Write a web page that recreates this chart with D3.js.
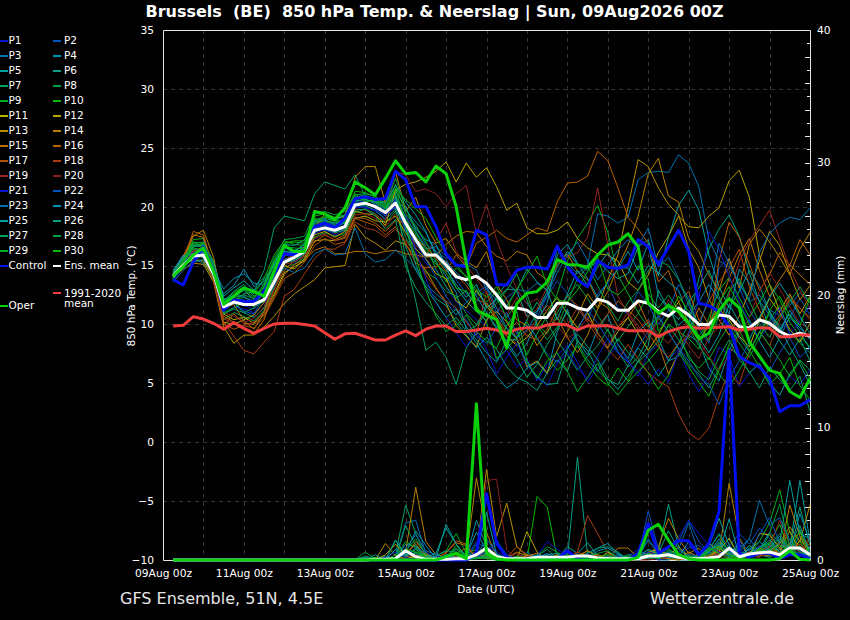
<!DOCTYPE html>
<html><head><meta charset="utf-8">
<script src="https://cdn.jsdelivr.net/npm/d3@7"></script>
<style>html,body{margin:0;padding:0;background:#000;overflow:hidden}text{font-family:"DejaVu Sans";fill:#fff;white-space:pre}</style>
</head><body><svg id="c" width="850" height="620"></svg>
<script>
const titleText = "Brussels  (BE)  850 hPa Temp. & Neerslag | Sun, 09Aug2026 00Z";
const tempTicks = [35,30,25,20,15,10,5,0,-5,-10];
const rainTicks = [0,10,20,30,40];
const memberColors = ["#0a14c8","#0050c0","#0070b0","#0090b0","#00a0a0","#00a080","#00a060","#00a040","#00b020","#00b800","#b4b400","#b8a400","#b89000","#b88000","#b87000","#b86000","#b05000","#a83c10","#982820","#882020"];
const ensMean = [14.1,15,15.8,15.9,14.3,11.5,11.9,11.7,11.7,12.1,13.6,15.3,15.7,16.2,18,18.2,18,18.3,20.15,20.3,20,19.5,20.3,18.6,17.2,15.9,15.9,15.05,14.05,13.8,14.1,13.5,12.5,11.4,11.4,11.2,10.6,10.6,11.8,11.8,11.4,11.2,12.15,11.9,11.2,11.2,12,11.8,11.1,10.7,11.4,10.8,10,10,10.8,10.7,9.8,9.7,10.4,10.1,9.4,9,9.25,9];
const climate = [9.87,9.93,10.66,10.46,10.1,9.6,10.15,9.67,9.25,9.67,10.04,10.1,10.1,10,9.87,9.3,8.74,9.2,9.25,8.96,8.68,8.68,9.1,9.45,9.05,9.6,9.87,9.87,9.4,9.4,9.53,9.67,9.53,9.25,9.6,9.73,9.67,9.95,10.04,9.95,9.53,9.87,9.87,9.9,9.67,9.47,9.47,9.47,8.96,9.4,9.67,9.8,9.67,9.73,9.76,9.8,9.53,9.6,9.73,9.67,8.96,8.96,9.1,9.1];
const control = [13.8,13.35,15.3,16.6,14.6,11.2,12.1,11.95,11.95,12.8,14.3,16,15.9,16.3,18.3,18.6,18.2,19,20.7,20.85,20.6,20.7,23,22.3,20,20,18.3,16,15.05,14.9,18,17.6,13.4,13.35,14.6,14.85,14.85,14.7,16.65,14.9,13.8,13.2,15.4,14.85,14.75,15.05,17.2,16.6,15.1,16.55,18,16.2,11.8,11.6,11.1,9.8,7.3,6.75,6.4,5.4,2.6,3.1,3.1,3.6];
const oper = [14.1,14.9,15.9,16.5,14.5,11.7,12.4,13.1,12.8,12.4,14.5,16.7,16.2,16.2,19.6,19.4,18.9,19.9,22.1,21.6,21,22.4,23.9,22.8,22.9,22.1,23.45,22.8,20,15.2,11.2,10.8,10.4,8,11.8,12.65,12.8,13.6,15.5,15.1,15.05,14.85,15.9,16.75,17,17.7,16.6,11.8,10.95,11.6,11.1,10.1,8.8,9.25,11.2,12.2,11.4,8.5,7.3,6.1,5.85,4.3,3.8,5.4];
const tempMembers = [
[14.2,15.2,16.1,15.8,14.2,10.8,11.5,11.3,11.0,11.8,13.2,15.6,15.2,16.0,17.7,18.1,17.6,18.0,19.9,20.0,19.6,19.0,20.2,18.4,16.5,15.2,14.6,13.2,11.9,11.2,10.4,10.0,6.9,7.8,6.4,7.1,5.2,6.6,7.4,8.2,6.8,5.1,6.4,7.2,8.3,6.9,5.6,7.5,8.3,7.0,7.9,5.8,4.3,5.6,8.1,7.4,4.7,5.9,6.6,4.8,4.0,5.6,4.9,6.2],
[13.9,15.4,15.8,16.4,14.6,11.2,11.8,11.1,10.9,12.4,14.0,15.9,15.9,16.3,18.2,18.4,18.0,18.5,20.2,20.4,19.9,19.6,20.5,19.2,18.3,16.8,16.2,15.6,13.8,12.6,11.9,13.1,11.0,12.3,12.9,11.8,10.6,12.4,13.7,12.6,11.3,10.4,12.6,13.5,11.4,10.9,12.8,11.7,10.0,11.2,13.4,12.3,9.6,8.4,14.8,15.6,13.1,11.2,9.9,10.8,9.4,10.6,12.2,10.8],
[14.4,15.1,16.3,15.6,13.9,11.6,12.5,12.3,12.0,12.6,14.4,16.3,15.8,16.4,18.3,18.9,18.4,18.6,20.4,20.7,20.2,19.8,21.0,19.1,17.8,16.4,16.6,15.8,14.9,15.2,14.6,13.0,12.1,11.6,13.0,12.8,13.5,12.9,16.4,15.2,14.3,15.1,19.4,19.2,18.6,19.1,22.3,22.9,23.0,22.9,24.4,23.7,21.7,17.2,15.4,14.9,13.6,11.9,12.5,11.2,10.8,11.6,12.7,11.9],
[14.6,15.9,15.6,15.2,14.1,12.6,13.3,14.7,13.2,14.0,14.9,15.8,16.3,16.6,18.4,18.5,18.1,18.7,20.0,20.3,20.1,19.5,19.9,18.0,16.9,16.1,15.3,14.1,12.7,9.6,8.4,6.9,5.6,4.6,5.2,6.3,6.8,5.8,9.4,11.3,8.7,7.4,9.6,10.8,8.3,7.1,9.4,10.2,8.8,6.9,7.3,9.1,8.5,6.3,5.2,7.8,9.3,10.4,8.6,7.2,8.9,10.6,9.7,8.8],
[14.0,15.3,16.0,16.2,15.1,12.1,12.4,12.9,12.1,12.9,14.7,16.2,16.1,16.9,18.6,18.8,18.6,19.0,20.6,20.8,20.6,20.4,21.3,20.0,18.1,17.2,16.8,14.9,13.1,12.0,11.1,10.3,12.4,13.5,12.8,10.7,11.1,12.8,14.9,16.2,15.1,14.6,15.4,14.5,13.9,14.3,16.6,17.2,14.1,17.4,20.1,21.4,19.7,15.9,13.2,11.4,12.8,14.6,13.3,11.0,9.6,10.9,9.4,7.9],
[14.3,15.5,16.6,16.8,14.9,11.1,11.9,11.0,10.6,11.4,13.4,15.2,15.5,16.1,18.0,18.1,17.8,18.1,20.0,20.1,19.7,18.9,19.8,16.6,14.6,13.2,12.2,11.6,10.2,9.1,8.0,8.9,7.9,6.4,5.5,5.1,4.4,5.9,7.0,6.0,8.6,7.8,6.1,5.3,4.9,6.5,8.0,7.1,5.6,6.9,8.4,10.0,13.9,16.4,18.1,19.3,17.5,14.4,11.9,9.8,8.6,7.4,8.8,6.9],
[14.5,15.7,17.0,16.9,15.4,12.2,12.0,12.6,12.8,14.6,18.2,19.2,19.0,18.8,21.1,22.1,21.8,21.5,22.7,20.9,20.7,19.8,21.2,15.5,12.0,7.8,8.5,7.2,4.9,8.0,9.3,11.8,10.9,9.6,8.8,10.4,11.9,10.2,8.6,7.4,6.1,7.3,8.2,9.6,7.7,6.4,7.2,8.9,10.6,9.4,7.9,6.6,5.8,4.6,6.3,8.0,7.4,5.9,6.7,5.1,4.0,5.8,7.0,6.1],
[13.8,15.0,16.4,16.1,14.0,10.4,11.0,10.7,10.3,11.2,13.1,14.9,15.1,15.7,17.4,17.8,17.5,17.7,19.5,19.8,19.4,18.6,19.6,17.4,15.8,14.4,13.9,12.8,12.4,10.9,10.0,11.4,12.2,10.6,11.8,12.6,10.0,9.2,11.0,12.4,13.4,12.2,10.8,9.4,8.6,9.8,10.9,12.6,11.4,12.5,11.2,9.7,8.2,7.0,8.6,9.9,8.4,7.2,8.9,10.4,11.6,9.3,8.4,7.6],
[14.1,15.6,17.2,17.3,14.8,11.3,12.1,12.3,11.9,13.3,15.4,16.9,17.0,16.9,18.9,19.1,19.0,19.1,20.9,20.6,20.4,19.9,21.9,19.4,18.4,17.0,15.4,13.6,14.8,14.1,12.7,11.9,12.8,10.3,9.5,7.4,9.2,10.8,12.6,15.4,17.3,18.6,20.1,17.8,14.2,12.6,11.0,9.8,10.7,11.8,9.4,8.8,7.9,10.6,12.9,14.0,12.3,10.6,11.9,13.4,12.1,10.2,9.0,8.1],
[14.0,15.2,16.7,16.9,15.2,11.9,12.7,13.2,12.6,13.9,15.9,17.1,16.8,16.7,19.2,19.4,19.1,19.3,21.3,21.2,20.8,20.1,20.9,18.9,17.6,16.2,15.1,14.4,13.1,12.8,11.6,10.2,7.1,7.9,9.0,10.2,8.8,7.3,6.1,7.0,8.2,6.7,5.5,4.8,6.3,5.2,6.9,5.9,4.5,5.7,7.6,6.4,5.1,3.9,6.1,8.3,9.5,7.8,6.4,4.9,5.8,7.2,4.8,3.6],
[14.2,15.0,15.5,15.4,13.8,10.9,10.4,10.6,10.1,11.1,12.6,14.4,14.9,15.4,17.1,17.2,17.1,17.4,19.0,19.2,18.8,18.7,19.2,17.8,16.4,15.6,14.3,13.9,12.0,11.4,12.9,11.6,10.4,9.0,8.2,8.9,9.9,11.2,12.3,10.9,9.7,11.0,9.3,8.0,9.4,10.6,9.2,7.8,9.1,10.7,11.9,10.2,8.6,9.9,11.3,10.4,9.0,8.1,10.4,12.2,11.0,9.6,8.5,10.1],
[14.1,15.3,15.9,15.7,14.5,10.2,10.0,10.4,10.8,11.9,14.1,15.0,14.7,15.6,17.6,17.9,17.4,17.9,19.6,19.4,19.3,18.4,21.4,21.9,22.1,22.5,23.0,23.8,22.1,23.7,22.5,23.3,21.7,19.7,20.3,18.2,17.7,17.7,18.0,18.7,17.3,16.5,16.0,15.9,15.4,13.6,12.9,14.2,16.1,17.5,19.2,18.3,18.2,19.2,19.9,22.2,23.1,20.8,15.9,13.4,11.1,12.6,10.9,12.4],
[14.0,14.7,15.2,15.1,13.6,9.8,8.4,9.1,9.1,9.8,10.7,11.8,12.6,13.2,13.8,14.8,14.9,15.0,18.5,17.4,16.9,16.3,17.1,16.8,15.7,14.6,13.1,11.8,9.9,9.0,8.1,10.4,11.1,10.2,8.8,6.4,6.9,5.9,7.8,9.4,10.8,12.6,11.4,13.8,15.9,20.0,24.0,23.4,21.6,20.2,19.3,16.4,14.8,12.2,10.4,9.1,10.7,12.8,15.4,17.9,16.7,14.3,12.1,13.3],
[14.2,15.5,17.5,18.0,15.7,11.4,11.7,10.3,9.6,11.0,13.8,15.5,15.9,16.6,18.2,19.4,19.0,19.2,22.5,23.4,23.4,20.3,23.0,19.6,20.8,18.4,16.9,17.3,16.0,15.4,14.8,16.2,13.4,12.1,10.4,9.9,8.2,9.4,10.6,8.9,7.6,9.1,11.3,12.8,14.9,16.7,19.2,22.8,24.1,20.9,20.4,17.3,16.2,14.2,12.9,15.6,13.1,16.8,18.1,17.0,15.7,14.2,16.4,17.8],
[14.4,15.8,17.6,17.4,14.4,9.9,10.9,10.1,10.0,10.8,12.4,14.2,15.1,15.5,16.3,16.6,16.0,16.0,16.2,16.2,16.0,16.2,16.3,16.0,15.9,15.7,15.8,16.8,17.5,17.9,17.8,16.6,15.8,15.4,16.2,15.9,14.4,13.8,15.1,16.0,14.5,13.8,12.0,11.4,9.8,10.6,11.9,10.0,8.4,5.8,7.6,9.3,11.4,10.0,11.6,13.9,15.9,17.3,14.6,12.4,13.8,15.1,14.2,13.4],
[14.3,15.4,17.9,17.6,14.7,10.7,10.2,9.6,9.2,10.4,13.0,14.6,15.4,15.9,17.0,17.6,17.2,17.6,19.1,19.0,18.6,17.9,18.8,18.6,17.2,16.6,15.6,14.5,15.9,14.9,16.9,17.4,18.0,17.3,17.0,17.6,18.2,17.9,20.4,22.0,22.1,22.6,24.7,23.9,21.6,19.1,18.1,16.9,13.6,14.6,11.9,12.8,10.4,9.7,15.4,18.7,17.4,15.1,12.9,14.2,16.1,15.0,17.2,15.9],
[14.1,15.1,16.2,16.6,13.9,10.0,9.6,9.9,9.7,10.6,12.2,13.9,14.4,15.3,16.7,17.3,16.8,17.0,19.0,18.7,18.4,17.6,18.3,16.9,15.2,14.8,14.9,15.4,14.2,13.3,12.1,11.8,10.6,9.3,10.2,9.0,8.7,9.6,11.4,12.4,11.6,10.4,9.8,10.9,12.0,11.2,10.4,9.2,8.1,7.2,8.4,9.0,10.2,11.9,13.6,14.8,16.4,13.2,11.2,9.6,10.8,12.1,11.4,10.6],
[14.0,14.9,16.0,15.9,13.7,10.2,9.0,7.8,7.5,8.5,9.4,12.4,13.0,14.3,15.6,16.4,16.4,16.9,18.7,18.2,18.0,17.4,18.1,17.1,16.0,14.2,13.0,12.0,11.4,10.2,9.1,12.8,10.2,9.0,8.4,9.4,10.4,11.6,10.9,10.0,11.4,10.2,8.9,7.9,7.0,8.3,7.1,5.9,5.2,4.7,2.4,0.8,0.2,1.2,3.9,6.0,4.9,7.6,9.4,8.2,10.3,12.4,11.4,10.4],
[14.2,15.0,15.9,16.2,14.0,10.5,10.1,9.9,10.2,11.0,12.9,15.1,15.3,15.8,17.3,17.7,17.1,17.3,19.3,19.4,19.0,18.3,19.4,18.2,16.7,15.9,17.1,18.6,16.2,15.0,13.9,12.7,11.4,10.8,12.3,10.6,11.3,13.2,15.1,15.7,16.1,17.4,21.6,16.7,12.4,10.9,9.6,10.4,9.1,8.4,9.6,8.2,7.1,8.9,9.8,12.6,15.3,17.1,18.4,19.7,17.2,14.8,12.9,11.4],
[14.1,15.2,16.3,15.9,14.2,11.0,10.7,10.2,10.5,11.5,13.6,15.4,15.6,16.2,17.9,18.3,17.7,18.2,19.8,19.7,19.3,18.8,23.0,22.7,21.3,21.5,21.1,20.0,21.1,21.8,17.7,20.2,17.2,14.9,13.0,11.7,12.2,11.0,9.9,8.8,9.4,10.6,9.2,8.1,9.8,11.0,9.9,8.7,10.4,12.1,10.9,9.8,8.6,7.3,6.1,7.4,9.0,10.6,12.8,14.4,13.0,11.5,10.1,9.6],
[13.7,14.9,15.7,16.1,14.4,11.7,12.2,11.6,11.3,12.3,14.3,16.1,15.4,16.0,17.9,18.3,17.9,18.4,20.0,19.9,19.7,19.3,20.0,18.8,16.2,13.9,11.8,10.6,9.3,8.1,9.4,7.9,5.8,7.2,8.4,6.6,5.5,4.8,6.7,7.6,6.3,5.4,7.3,8.8,7.7,6.8,6.0,4.9,6.2,5.1,7.7,9.2,12.1,17.9,16.4,14.1,11.9,10.2,8.8,9.9,11.4,9.1,10.3,11.6],
[13.9,15.0,16.5,16.2,14.3,11.4,12.0,12.1,11.6,12.7,14.5,15.5,15.7,16.3,18.1,18.0,17.8,18.2,20.3,20.5,19.8,19.2,20.6,17.9,17.0,15.5,14.0,12.4,11.2,10.4,9.0,8.4,9.7,11.0,9.2,10.0,8.9,7.5,6.8,8.0,9.5,11.2,10.1,8.7,7.6,6.8,8.1,9.4,10.8,9.3,8.0,6.9,5.5,4.9,3.2,5.4,6.9,8.5,7.1,6.0,7.6,8.9,7.2,8.0],
[13.6,14.6,15.4,15.9,14.0,11.8,12.6,12.4,11.8,12.2,13.9,14.8,14.4,14.8,16.0,16.4,15.9,16.0,18.2,16.0,15.3,15.5,16.3,15.6,14.8,13.4,12.6,11.9,10.8,11.9,12.6,13.3,11.4,9.7,8.9,9.5,11.0,12.5,14.4,15.9,17.0,15.4,13.8,15.0,16.3,17.2,16.6,18.2,14.9,15.7,13.9,11.6,9.8,12.3,16.9,15.2,13.4,12.1,16.1,17.7,18.6,19.1,18.9,19.9],
[14.2,15.5,15.3,15.5,14.7,13.0,13.9,14.3,13.5,13.4,15.2,16.6,16.0,16.5,18.3,18.7,18.3,18.8,20.1,20.2,20.0,19.7,20.7,19.7,18.7,17.8,16.1,15.3,14.4,13.6,12.4,11.0,9.8,8.6,7.3,8.4,10.3,11.8,15.9,16.8,15.2,13.9,12.3,13.6,14.7,16.2,14.6,16.9,12.4,11.3,9.9,10.8,11.9,13.4,12.1,10.9,14.7,13.5,12.0,10.8,9.3,11.2,9.9,8.7],
[14.4,15.8,16.0,16.1,15.0,12.4,13.1,13.7,12.9,13.7,15.0,16.8,16.7,17.2,18.8,19.0,18.8,19.3,20.7,20.9,20.4,20.3,21.8,20.4,19.3,17.9,15.8,14.7,13.4,12.3,13.4,11.4,12.1,13.0,12.9,14.7,13.6,12.9,10.4,12.6,14.6,13.3,14.9,16.1,14.8,14.8,13.5,15.0,14.4,13.6,12.9,10.6,8.9,7.6,9.1,11.7,10.2,8.7,10.6,12.3,13.5,12.2,10.7,9.2],
[14.3,15.6,16.8,16.5,15.3,12.0,12.8,13.4,12.4,13.1,15.1,16.5,16.2,16.8,18.7,18.9,18.5,18.9,20.5,20.6,20.3,20.0,20.8,18.3,15.1,13.0,11.9,10.6,11.3,9.8,8.7,7.6,6.8,8.7,8.7,6.7,5.6,4.9,5.0,7.9,9.2,8.1,7.0,5.4,4.5,5.6,6.9,8.2,12.9,11.3,10.4,11.9,13.1,14.6,12.4,10.1,8.9,7.7,9.3,11.1,9.8,8.1,6.6,4.9],
[14.0,15.1,16.6,16.7,14.6,10.9,11.3,11.0,11.4,12.0,13.8,15.3,15.4,16.0,17.8,18.2,17.8,18.0,19.7,19.8,19.2,18.1,18.9,14.9,13.1,11.9,10.9,9.9,10.6,9.4,9.9,11.0,9.6,8.3,7.1,5.5,6.6,8.3,9.6,11.1,8.4,7.0,6.0,7.3,8.8,7.6,6.8,7.6,8.6,9.9,8.7,7.4,6.0,5.3,7.2,8.7,7.0,6.0,4.6,6.4,5.3,4.4,5.6,2.6],
[14.2,15.4,16.9,17.0,15.0,11.5,12.3,12.5,12.2,13.5,15.6,17.2,17.3,17.5,19.4,19.6,19.3,19.6,21.0,21.1,20.9,20.2,22.4,19.9,17.9,16.6,14.7,13.2,12.2,12.9,11.4,10.6,11.8,12.9,14.3,12.1,9.9,8.7,9.8,11.9,13.9,14.9,13.3,11.6,10.3,11.9,12.9,14.6,15.4,15.0,13.8,12.0,9.9,8.6,10.7,12.8,13.9,12.0,10.1,8.9,10.6,11.9,13.2,11.8],
[13.9,15.3,17.0,16.6,14.5,11.0,11.4,11.9,11.5,12.8,14.8,16.6,16.5,16.4,18.5,19.2,18.7,18.7,20.8,21.0,20.5,19.4,21.6,18.5,15.7,12.9,10.7,9.4,9.9,10.8,9.4,8.6,8.0,9.9,11.1,6.9,5.4,6.9,7.6,6.0,4.3,5.5,6.7,5.0,4.0,5.1,6.0,6.9,7.9,10.0,9.4,7.1,6.3,7.2,5.8,4.7,6.1,7.7,9.4,8.2,7.0,5.6,6.9,5.4],
[14.1,15.4,16.5,16.3,14.9,11.7,12.2,13.0,12.3,13.2,15.3,16.9,17.1,17.1,19.0,18.6,18.9,18.6,21.1,20.4,20.6,20.0,21.5,20.6,19.8,19.0,17.4,16.0,15.1,14.0,13.0,12.3,13.2,11.4,13.0,14.3,15.8,13.3,12.1,11.9,12.9,14.5,15.7,13.0,12.5,13.4,15.0,13.8,9.4,10.6,12.4,11.1,9.0,10.1,11.9,13.2,11.7,10.0,8.7,11.2,12.4,10.7,9.9,12.3]
];
const precipControl = [0,0,0,0,0,0,0,0,0,0,0,0,0,0,0,0,0,0,0,0,0,0,0,0,0,0,0,0,0,0,.5,5,1.25,.2,0,0,0,0,.1,.7,.1,0,0,0,0,0,.5,2.75,.5,1,1.45,1.45,.4,1.25,3.65,15.8,.5,.2,.5,.55,.1,.4,.4,.1];
const precipMean = [0,0,0,0,0,0,0,0,0,0,0,0,0,0,0,0,0,0,0,0,.05,.05,.1,.7,.25,.05,.05,.05,.1,.1,.4,.9,.25,.1,.1,.1,.2,.2,.2,.2,.3,.3,.15,.1,.1,.1,.1,.3,.3,.4,.2,.1,.1,.15,.25,.9,.25,.45,.55,.6,.4,.9,.9,.4];
const precipOper = [0,0,0,0,0,0,0,0,0,0,0,0,0,0,0,0,0,0,0,0,0,0,0,0,0,0,0,.25,.5,.1,11.8,.5,.1,0,0,0,0,0,0,0,0,0,0,0,0,0,.2,2.25,2.7,1.5,.4,.1,0,0,0,0,0,0,0,0,.1,.7,.05,0];
const precipMembers = [
[0,0,0,0,0,0,0,0,0,0,0,0,0,0,0,0,0,0,0,0,0,0,0,.2,.4,.3,0,0,0,.1,.3,.8,1.1,.3,0,0,0,.2,.1,0,0,0,0,0,0,.3,.8,.3,0,.2,.6,1.1,.4,.1,.2,.7,.3,.8,.5,1.2,.6,.9,.4,.5],
[0,0,0,0,0,0,0,0,0,0,0,0,0,0,0,0,0,0,0,0,0,0,0,0,0,0,.2,0,0,.2,1.4,.8,.4,0,0,.6,.2,0,0,0,0,0,0,.1,.4,.2,.2,3.7,.8,.2,1.4,3,1.4,.6,.3,1,2,1.2,2.4,1.6,.8,1.3,.5,.9],
[0,0,0,0,0,0,0,0,0,0,0,0,0,0,0,0,0,0,0,0,0,0,.2,2.8,3,.5,.1,.3,.2,0,1.2,.3,.1,0,0,0,.2,0,0,0,0,0,.1,.3,0,.1,.2,.6,0,0,.8,2.8,.5,0,.6,.3,.9,1.6,.6,.3,1.1,.7,2.3,.8],
[0,0,0,0,0,0,0,0,0,0,0,0,0,0,0,0,0,0,0,0,0,0,0,1.2,1,.3,0,0,0,.2,3,1,.1,0,0,0,0,0,.1,.4,0,0,0,0,.2,0,.3,.8,.4,0,.2,1.4,.3,.6,0,.2,1.2,.4,.8,2.1,1.3,.6,1.8,.4],
[0,0,0,0,0,0,0,0,0,0,0,0,0,0,0,0,0,0,0,0,0,0,1.5,.3,.8,.2,.1,2.7,1.2,.3,.6,.2,0,0,0,0,0,.3,.1,1,.5,1.3,.3,0,0,0,.2,1.5,.5,.1,0,0,.5,1.3,.5,3.1,.3,1.1,.4,.2,.6,.9,6,1.4],
[0,0,0,0,0,0,0,0,0,0,0,0,0,0,0,0,0,0,0,0,0,.3,0,.1,0,0,0,.4,.2,0,.2,.5,0,0,0,0,0,0,0,.2,7.75,.4,0,.6,.2,0,.1,.5,.6,4.2,1,.3,0,.2,.8,1.6,.4,.6,1,1.3,.5,1.2,4,1.1],
[0,0,0,0,0,0,0,0,0,0,0,0,0,0,0,0,0,0,0,0,0,0,.4,4.15,2,.3,0,.1,.5,.1,.2,.4,0,0,.2,0,.3,.8,.1,0,0,.3,.1,0,0,0,.2,.3,.1,.4,.2,0,0,.6,1.4,.8,.2,.3,.9,1.2,.6,2.2,.5,.9],
[0,0,0,0,0,0,0,0,0,0,0,0,0,0,0,0,0,0,0,.6,.1,0,0,.3,.8,.1,0,.2,.4,0,.1,.3,0,0,0,.2,.3,1,.6,.1,.2,0,.4,.1,0,0,.3,.2,.5,.8,.4,.2,0,.3,.9,.4,.2,1.1,.7,.4,.8,1.6,.5,.3],
[0,0,0,0,0,0,0,0,0,0,0,0,0,0,0,0,0,0,0,0,.2,0,0,.1,.2,0,.3,.7,2,.5,.1,.2,.1,0,0,0,.2,0,.4,0,0,.1,0,.2,0,.1,0,.2,.3,.9,.2,0,.1,.4,1,.3,.1,.4,1.4,2.8,5.3,2.1,.6,.3],
[0,0,0,0,0,0,0,0,0,0,0,0,0,0,0,0,0,0,0,0,0,0,0,0,0,.2,0,0,.2,.5,.8,.3,0,0,0,0,4.8,4,.1,0,.1,0,0,0,0,0,.2,.4,.4,.6,.1,.3,.1,.8,1.9,.6,.1,.3,.8,1.3,2.7,.6,1.4,.2],
[0,0,0,0,0,0,0,0,0,0,0,0,0,0,0,0,0,0,0,0,0,0,0,.1,.3,.4,.1,0,.2,.1,.5,.2,0,.1,0,.4,.2,.1,0,.1,.2,0,0,.6,.1,0,0,.3,.2,.1,0,.2,0,.2,.7,1.65,.2,.3,2,1.9,.9,.4,1.5,.7],
[0,0,0,0,0,0,0,0,0,0,0,0,0,0,0,0,0,0,0,0,0,.4,1.2,.3,.1,0,0,0,0,0,.5,1,.3,0,0,2.15,.6,0,.1,0,.4,.1,0,.3,0,0,.1,.2,.9,.3,1,.2,.3,1.3,.6,.4,.1,.2,.6,1.1,.4,1.2,.8,.3],
[0,0,0,0,0,0,0,0,0,0,0,0,0,0,0,0,0,0,0,0,0,1.25,.3,.5,1.2,.3,0,0,.3,.2,.4,6.85,1.75,4.3,1,.3,.1,0,0,.2,.3,.7,.2,.3,.1,0,.2,.6,.8,.4,.1,.6,.2,0,1,.2,.6,.2,.4,.7,1.2,2.5,1.4,4.15],
[0,0,0,0,0,0,0,0,0,0,0,0,0,0,0,0,0,0,0,0,0,0,0,.6,5.5,1.4,.4,0,.1,.2,6.2,2.1,.2,0,.1,.3,.5,0,0,.1,.2,.7,.3,.1,0,0,.4,.5,1,3.15,1.6,.5,.9,.1,.4,5.8,1.7,.2,.3,.8,.3,4.15,1.8,.6],
[0,0,0,0,0,0,0,0,0,0,0,0,0,0,0,0,0,0,0,0,0,0,0,.3,1.4,.5,0,.6,1.3,1.1,.2,.1,.3,.2,.6,.3,.1,0,.4,.2,0,.3,.2,.1,.9,.9,.2,.3,.7,.3,.2,.1,0,.4,.7,.3,.1,.6,.4,.3,.9,2.2,.7,1.2],
[0,0,0,0,0,0,0,0,0,0,0,0,0,0,0,0,0,0,0,0,0,0,0,0,.2,.1,0,.2,.5,.9,.3,.8,.2,0,.3,.1,0,0,0,.6,.1,.2,.4,.2,0,0,.2,.6,.2,.1,0,.2,.4,.3,.9,.5,.3,.5,.7,.9,.5,1.3,2.1,.6],
[0,0,0,0,0,0,0,0,0,0,0,0,0,0,0,0,0,0,0,0,0,0,0,0,.1,0,.2,.5,1.45,1.2,.1,.3,.4,.2,1,.4,0,.1,.2,.1,.6,.3,.1,0,0,.1,.4,.3,.5,.2,.1,.3,0,.4,1.1,.2,.4,.2,.9,.5,1.4,.8,.4,1.6],
[0,0,0,0,0,0,0,0,0,0,0,0,0,0,0,0,0,0,0,0,0,0,0,.2,.4,.1,0,.1,.3,.2,.3,.4,.2,.2,.5,.1,0,0,.3,.2,.6,3.35,2,.5,.1,.1,0,.1,.3,.4,.1,.1,0,.2,.6,.1,.2,.6,.3,.7,.3,.9,1.2,.5],
[0,0,0,0,0,0,0,0,0,0,0,0,0,0,0,0,0,0,0,0,0,0,0,0,.1,0,0,.1,0,.1,.2,.6,.3,.1,0,.2,0,0,.2,.8,.2,.1,.3,.1,.1,0,0,.2,.1,.3,.2,.4,0,.1,.5,.3,.1,.2,.4,1,3,1.1,.6,1.8],
[0,0,0,0,0,0,0,0,0,0,0,0,0,0,0,0,0,0,0,0,0,0,0,0,0,0,0,0,.1,.2,.3,6,6.1,.75,.1,0,0,.1,0,.1,.2,.1,0,0,0,.1,0,0,.1,.2,.1,.2,0,.1,.2,.1,0,.3,.2,.6,.5,.8,.3,.4],
[0,0,0,0,0,0,0,0,0,0,0,0,0,0,0,0,0,0,0,0,0,.2,.6,.2,0,.1,.3,.2,.1,.1,.2,.9,.7,.1,0,.2,.3,1.4,.8,.3,.1,.4,.2,0,.1,.2,.4,.6,.4,.9,1.7,3,2,1.1,.6,.3,.8,.4,1.1,.6,.4,.8,.3,.7],
[0,0,0,0,0,0,0,0,0,0,0,0,0,0,0,0,0,0,0,0,0,.1,.2,.4,.9,.6,.1,.3,.1,0,.2,.6,1.5,.4,.1,0,.1,.3,.2,.1,0,.2,.1,.3,.3,.1,.2,1.6,.5,.2,.4,.9,1.1,.5,1.2,.4,1.4,.7,1.9,3.2,1.3,.7,.4,.3],
[0,0,0,0,0,0,0,0,0,0,0,0,0,0,0,0,0,0,0,0,0,0,0,.9,1.9,.7,.4,.1,0,.1,.3,1.6,.5,.1,0,.1,.2,.5,.1,.2,.1,.3,.1,0,0,.2,.3,.5,.2,.6,.2,.4,.3,.8,2,.9,.6,1.6,4.5,2.6,3.2,1.5,.7,.2],
[0,0,0,0,0,0,0,0,0,0,0,0,0,0,0,0,0,0,0,0,0,0,0,.5,2.2,1.1,.1,.3,.2,.3,2.1,.7,0,.1,.2,.1,.4,.3,0,.2,.3,.1,.7,.9,.4,.1,0,.2,.6,.2,.1,.3,.2,.6,1.6,.5,.2,.9,.5,.9,1.8,.6,3.5,1.4],
[0,0,0,0,0,0,0,0,0,0,0,0,0,0,0,0,0,0,0,.2,0,0,.8,.3,.6,.2,.5,2.4,1.2,.2,.4,3.6,.4,.1,0,0,.1,.4,.5,.1,.2,.5,.9,1.25,.5,.1,0,.3,.1,.5,.3,.1,.2,1,3.15,1.1,.3,.8,1.4,.7,1.3,6,2,1.6],
[0,0,0,0,0,0,0,0,0,0,0,0,0,0,0,0,0,0,0,0,.4,0,1.5,.4,.5,.1,.3,.7,.6,.1,.2,.3,.4,0,0,.1,0,.1,.3,.6,.3,.2,.9,1,.6,0,.2,.8,.5,2.2,.8,.2,.1,.6,1.3,.3,.2,.5,.9,1.5,.6,1.1,2.6,.5],
[0,0,0,0,0,0,0,0,0,0,0,0,0,0,0,0,0,0,0,.3,.1,0,0,2.6,1.1,.2,0,.3,.9,.3,.1,.2,0,.2,.1,0,.1,0,.2,.1,.2,0,0,.2,.1,.4,.3,.1,.2,.7,.3,.1,0,.8,1.1,.6,.1,.4,.7,1.1,2,.8,.3,.6],
[0,0,0,0,0,0,0,0,0,0,0,0,0,0,0,0,0,0,0,0,0,0,0,.7,1.6,.4,0,.2,.8,.2,.1,.4,.2,.1,0,.1,.3,.2,.1,0,.1,.3,.5,.7,.2,.1,0,.3,.1,.4,.2,.3,.2,.4,.9,.2,.3,.2,.5,2,4.2,1,.4,.8],
[0,0,0,0,0,0,0,0,0,0,0,0,0,0,0,0,0,0,0,0,0,0,.2,1.4,.9,.1,0,.1,1.1,.3,.2,.1,0,0,.3,.1,0,.1,.2,.1,0,.1,.1,.2,.1,0,.1,.5,.2,.3,.1,.2,0,.9,.5,.1,.2,.3,.6,.8,1.6,.4,1.1,.2],
[0,0,0,0,0,0,0,0,0,0,0,0,0,0,0,0,0,0,0,0,0,.1,.2,.8,.6,.2,.1,.2,.6,.2,.5,.7,.1,0,.2,0,.2,.3,.1,.4,.1,.2,.2,.4,.1,.3,.2,.3,.5,.3,.2,.2,.1,.7,1,.4,.1,.3,.8,.6,1.1,.7,2.2,.2]
];

const start = Date.UTC(2026,7,9,0), end = Date.UTC(2026,7,25,0), H = 3600000;
const times = ensMean.map((_,i)=>new Date(start + (i+1)*6*H));
const svg = d3.select("#c");
const x = d3.scaleUtc().domain([start,end]).range([163,810]);
const yT = d3.scaleLinear().domain([-10,35]).range([560,30]);
const yR = d3.scaleLinear().domain([0,40]).range([560,30]);
svg.append("rect").attr("width",850).attr("height",620).attr("fill","#000");
const fmt = d3.utcFormat("%d%b %Hz");
const days = d3.utcDay.range(new Date(start),new Date(end+1),1);
svg.append("g").selectAll("line").data(days.slice(1,-1)).join("line")
  .attr("x1",d=>Math.round(x(d))+.5).attr("x2",d=>Math.round(x(d))+.5).attr("y1",30).attr("y2",560)
  .attr("stroke","#333").attr("stroke-width",1).attr("stroke-dasharray","4,4");
svg.append("g").selectAll("line").data(tempTicks.slice(1,-1)).join("line")
  .attr("x1",163).attr("x2",810).attr("y1",d=>Math.round(yT(d))+.5).attr("y2",d=>Math.round(yT(d))+.5)
  .attr("stroke","#333").attr("stroke-width",1).attr("stroke-dasharray","4,4");
svg.append("path").attr("d","M163.5,560.5V30.5H810.5V560.5H163.5Z").attr("fill","none").attr("stroke","#e6e6e6").attr("stroke-width",1);
const tickFont = 10.7;
const axT = svg.append("g").attr("transform","translate(163,0)").call(d3.axisLeft(yT).tickValues(tempTicks).tickSize(0).tickPadding(9));
axT.select(".domain").remove();
axT.selectAll("text").attr("font-size",tickFont).style("font-family","DejaVu Sans");
const axX = svg.append("g").attr("transform","translate(0,560)").call(d3.axisBottom(x).tickValues(days.filter((d,i)=>i%2==0)).tickFormat(fmt).tickSize(0).tickPadding(9));
axX.select(".domain").remove();
axX.selectAll("text").attr("font-size",tickFont).style("font-family","DejaVu Sans");
const rightMinor = d3.range(1,40);
const axR = svg.append("g").attr("transform","translate(810,0)").call(d3.axisLeft(yR).tickValues(rightMinor).tickSize(0).tickFormat(""));
axR.select(".domain").remove();
axR.selectAll("line").attr("x2",d=>d%2==0?-5:-3).attr("stroke","#e6e6e6").attr("shape-rendering","crispEdges");
const axR2 = svg.append("g").attr("transform","translate(810,0)").call(d3.axisRight(yR).tickValues(rainTicks).tickSize(0).tickPadding(7));
axR2.select(".domain").remove();
axR2.selectAll("text").attr("font-size",tickFont).style("font-family","DejaVu Sans");
const lineT = d3.line().x((d,i)=>x(times[i])).y(d=>yT(d));
const lineR = d3.line().x((d,i)=>x(times[i])).y(d=>yR(d));
const mColor = i => memberColors[i%20];
const plot = svg.append("g").attr("fill","none").attr("stroke-linejoin","round");
plot.append("g").selectAll("path").data(tempMembers).join("path").attr("d",lineT).attr("stroke",(d,i)=>mColor(i)).attr("stroke-width",1);
plot.append("g").selectAll("path").data(precipMembers).join("path").attr("d",lineR).attr("stroke",(d,i)=>mColor(i)).attr("stroke-width",1);
const thick=(line,data,col,w)=>plot.append("path").attr("d",line(data)).attr("stroke",col).attr("stroke-width",w);
thick(lineT,control,"#0010f0",3);
thick(lineR,precipControl,"#0010f0",3);
thick(lineT,ensMean,"#ffffff",3);
thick(lineR,precipMean,"#ffffff",3);
thick(lineT,climate,"#f03c3c",3);
thick(lineT,oper,"#0ad20a",3);
thick(lineR,precipOper,"#0ad20a",3);
const legendNames = d3.range(1,31).map(i=>"P"+i);
const lg = svg.append("g");
const legFont = 10.5;
legendNames.forEach((n,i)=>{
  const col=i%2, row=Math.floor(i/2), yy=40+15*row, x0=col?53:0;
  lg.append("line").attr("x1",x0).attr("x2",x0+8).attr("y1",yy+1).attr("y2",yy+1).attr("stroke",mColor(i)).attr("stroke-width",2);
  lg.append("text").attr("x",col?64:8.5).attr("y",yy+4).attr("font-size",legFont).text(n);
});
const extras=[["Control",0,265,"#0010f0"],["Ens. mean",53,265,"#ffffff"],["Oper",0,305,"#0ad20a"]];
extras.forEach(([n,x0,yy,c])=>{
  lg.append("line").attr("x1",x0).attr("x2",x0+8).attr("y1",yy+1).attr("y2",yy+1).attr("stroke",c).attr("stroke-width",2);
  lg.append("text").attr("x",x0?64:8.5).attr("y",yy+4).attr("font-size",legFont).text(n);
});
lg.append("line").attr("x1",53).attr("x2",61).attr("y1",293).attr("y2",293).attr("stroke","#f03c3c").attr("stroke-width",2);
const climLabel = lg.append("text").attr("x",64).attr("y",297).attr("font-size",legFont);
climLabel.append("tspan").attr("x",64).text("1991-2020");
climLabel.append("tspan").attr("x",64).attr("dy",10).text("mean");
svg.append("text").attr("x",434.5).attr("y",17).attr("text-anchor","middle").attr("font-size",16).attr("font-weight","bold").text(titleText);
svg.append("text").attr("transform","translate(135,296) rotate(-90)").attr("text-anchor","middle").attr("font-size",10.5).text("850 hPa Temp. (°C)");
svg.append("text").attr("transform","translate(844,295) rotate(-90)").attr("text-anchor","middle").attr("font-size",10.5).text("Neerslag (mm)");
svg.append("text").attr("x",486).attr("y",593).attr("text-anchor","middle").attr("font-size",10.5).text("Date (UTC)");
svg.append("text").attr("x",120).attr("y",604).attr("font-size",16).style("fill","#e6e6e6").text("GFS Ensemble, 51N, 4.5E");
svg.append("text").attr("x",650).attr("y",604).attr("font-size",16).style("fill","#e6e6e6").text("Wetterzentrale.de");
</script></body></html>
